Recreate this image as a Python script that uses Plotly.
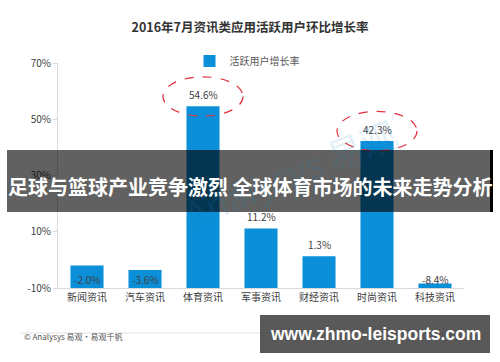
import plotly.graph_objects as go

categories = ["新闻资讯", "汽车资讯", "体育资讯", "军事资讯", "财经资讯", "时尚资讯", "科技资讯"]
growth = [-2.0, -3.6, 54.6, 11.2, 1.3, 42.3, -8.4]
tick_vals = [-10, 10, 30, 50, 70]
tick_text = ["-10%", "10%", "30%", "50%", "70%"]
highlight = ["体育资讯", "时尚资讯"]

AXIS_MIN = -10
BAR = "#0b8fd8"
FONT = "Noto Sans CJK SC, Noto Sans, sans-serif"

# plot area in pixels: x 58..464, y 63..288
def px(x):
    return (x - 58) / 406.0

def py(y):
    return (288 - y) / 225.0

fig = go.Figure()
fig.add_trace(go.Bar(
    x=categories,
    y=[v - AXIS_MIN for v in growth],
    base=AXIS_MIN,
    marker=dict(color=BAR, line=dict(width=0)),
    width=0.57,
    name="活跃用户增长率",
    showlegend=True,
))

annotations = []
for c, v in zip(categories, growth):
    if v >= 0:
        annotations.append(dict(x=c, y=v, xref="x", yref="y", text=f"{v:.1f}%",
                                showarrow=False, yanchor="bottom", yshift=2,
                                font=dict(size=10, color="#404040", family=FONT)))
    else:
        annotations.append(dict(x=c, y=AXIS_MIN, xref="x", yref="y", text=f"{v:.1f}%",
                                showarrow=False, yanchor="bottom", yshift=-1,
                                font=dict(size=10, color="#404040", family=FONT)))

shapes = []
for c in highlight:
    i = categories.index(c)
    v = growth[i]
    shapes.append(dict(type="circle", xref="x", yref="y",
                       x0=i - 0.69, x1=i + 0.69, y0=v - 3.5, y1=v + 10.5,
                       line=dict(color="#e0303a", width=1.2, dash="dash")))

# watermark
annotations.append(dict(x=px(290), y=py(172), xref="paper", yref="paper", text="Analysys 易观",
                        showarrow=False, textangle=-22,
                        font=dict(size=36, color="rgba(20,130,200,0.13)", family=FONT)))

# overlay banner
shapes.append(dict(type="rect", xref="paper", yref="paper", x0=px(7), x1=px(493),
                   y0=py(212), y1=py(150),
                   fillcolor="rgba(0,0,0,0.62)", line=dict(width=0), layer="above"))
shapes.append(dict(type="line", xref="paper", yref="paper", x0=px(491.5), x1=px(491.5),
                   y0=py(212), y1=py(150),
                   line=dict(color="black", width=3), layer="above"))
annotations.append(dict(xref="paper", yref="paper", x=px(250), y=py(186),
                        text="<b>足球与篮球产业竞争激烈 全球体育市场的未来走势分析</b>",
                        showarrow=False, font=dict(size=20, color="white", family=FONT)))

# footer
shapes.append(dict(type="line", xref="paper", yref="paper",
                   x0=px(20), x1=px(480), y0=py(333), y1=py(333),
                   line=dict(color="#e3e3e3", width=1)))
annotations.append(dict(xref="paper", yref="paper", x=px(22), y=py(344),
                        xanchor="left", text="© Analysys 易观·易观千帆", showarrow=False,
                        font=dict(size=8, color="#555", family=FONT)))
annotations.append(dict(xref="paper", yref="paper", x=px(484), y=py(343),
                        xanchor="right", text="www.analysys.cn", showarrow=False,
                        font=dict(size=8, color="#555", family=FONT)))
shapes.append(dict(type="rect", xref="paper", yref="paper",
                   x0=px(260), x1=px(490), y0=py(353), y1=py(315),
                   fillcolor="rgba(60,60,60,0.85)", line=dict(width=0), layer="above"))
annotations.append(dict(xref="paper", yref="paper", x=px(375), y=py(334),
                        xanchor="center", yanchor="middle",
                        text="<b>www.zhmo-leisports.com</b>", showarrow=False,
                        font=dict(size=17.5, color="white", family="Liberation Sans, Arial, sans-serif")))

fig.update_layout(
    width=500, height=362,
    margin=dict(l=58, r=36, t=63, b=74, autoexpand=False),
    paper_bgcolor="white", plot_bgcolor="white",
    font=dict(family=FONT, size=10, color="#404040"),
    title=dict(text="<b>2016年7月资讯类应用活跃用户环比增长率</b>", x=0.5, xanchor="center",
               y=1 - 28 / 362, yanchor="middle", font=dict(size=12.5, color="#333")),
    legend=dict(orientation="h", x=px(247), xanchor="center", y=py(61), yanchor="middle",
                font=dict(size=10, color="#595959"), itemwidth=30,
                bgcolor="rgba(0,0,0,0)"),
    xaxis=dict(showline=True, linecolor="#d9d9d9", linewidth=1, ticks="",
               tickfont=dict(size=10, color="#404040"), showgrid=False, zeroline=False),
    yaxis=dict(range=[-10, 70], tickvals=tick_vals, ticktext=tick_text, showline=True,
               linecolor="#d9d9d9", linewidth=1, ticks="outside", ticklen=4, tickcolor="#d9d9d9",
               showgrid=False, zeroline=False, tickfont=dict(size=10, color="#404040")),
    annotations=annotations,
    shapes=shapes,
)

fig.write_html("out.html", config={"displayModeBar": False},
               post_script="document.body.style.margin='0';document.body.style.overflow='hidden';")
